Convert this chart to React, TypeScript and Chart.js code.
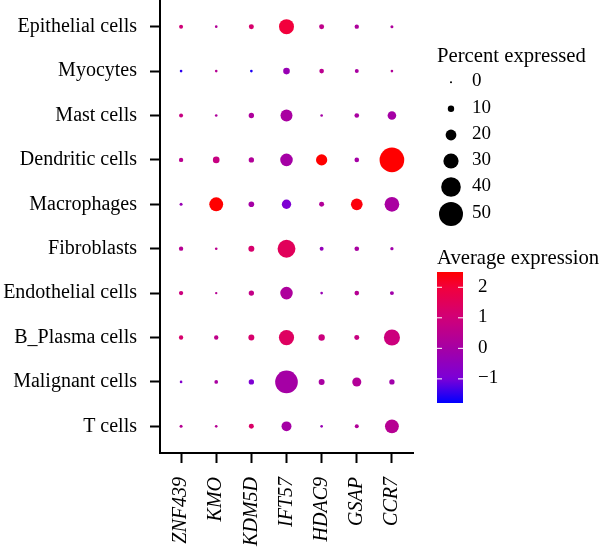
import React, { useEffect, useRef } from "react";
import { Chart, registerables } from "chart.js";

Chart.register(...registerables);

const genes = ["ZNF439", "KMO", "KDM5D", "IFT57", "HDAC9", "GSAP", "CCR7"];
const cellTypes = [
  "T cells",
  "Malignant cells",
  "B_Plasma cells",
  "Endothelial cells",
  "Fibroblasts",
  "Macrophages",
  "Dendritic cells",
  "Mast cells",
  "Myocytes",
  "Epithelial cells",
];

// rows follow cellTypes, columns follow genes
const percentT = [2.3, 1.5, 6.8, 18, 1.5, 4.5, 27];
const percentMalignant = [1.5, 3.8, 7.6, 47, 9, 16, 7.6];
const percentBPlasma = [5.3, 5.3, 9, 30, 9.9, 6.8, 32];
const percentEndothelial = [5.3, 0.8, 7.6, 24, 1.5, 6, 4.5];
const percentFibroblasts = [5.3, 1.5, 9, 36, 4.5, 6, 3];
const percentMacrophages = [2.3, 27, 8.3, 16.7, 6.8, 22, 28.8];
const percentDendritic = [5.3, 10.6, 7.6, 24, 21, 6, 51.5];
const percentMast = [4.5, 1.5, 7.6, 22.7, 1.5, 6, 15];
const percentMyocytes = [1.5, 1.5, 1.5, 10.6, 6, 4.5, 1.5];
const percentEpithelial = [4.5, 1.5, 6.8, 29.5, 6.8, 5.3, 2.3];

const avgT = [0.4, 0.4, 1.3, 0, -0.3, 0.3, 0.4];
const avgMalignant = [-0.8, 0.1, -0.9, 0, 0.1, 0.3, -0.1];
const avgBPlasma = [1.2, 0.6, 1.2, 1.4, 0.9, 0.8, 0.9];
const avgEndothelial = [0.9, 0.4, 0.7, 0.2, -0.3, 0.4, -0.1];
const avgFibroblasts = [0.4, 0.5, 1.2, 1.5, -0.4, 0.1, -0.1];
const avgMacrophages = [-0.3, 2.5, 0, -0.9, 0.3, 2.4, 0.1];
const avgDendritic = [0.5, 0.8, 0.3, 0, 2.5, 0, 2.5];
const avgMast = [0.8, 0.2, 0.2, 0.1, 0, 0.1, 0];
const avgMyocytes = [-1.5, 0.4, -1.6, -0.3, 0.5, 0.1, 0.3];
const avgEpithelial = [1, 0.3, 1.2, 2, 0.6, 0.2, 0.2];

const percentRows = [
  percentT, percentMalignant, percentBPlasma, percentEndothelial, percentFibroblasts,
  percentMacrophages, percentDendritic, percentMast, percentMyocytes, percentEpithelial,
];
const avgRows = [
  avgT, avgMalignant, avgBPlasma, avgEndothelial, avgFibroblasts,
  avgMacrophages, avgDendritic, avgMast, avgMyocytes, avgEpithelial,
];

const sizeLegendValues = [0, 10, 20, 30, 40, 50];
const colorLegendValues = [2, 1, 0, -1];

const colorMin = -1.79;
const colorMax = 2.5;
const colorStops: [number, number, number, number][] = [
  [-1.79, 0, 0, 255],
  [-1, 122, 0, 216],
  [0, 165, 0, 165],
  [1, 208, 0, 120],
  [2, 242, 0, 60],
  [2.5, 255, 0, 0],
];

const SERIF = '"Liberation Serif", serif';

function colorFor(v: number) {
  const c = Math.max(colorMin, Math.min(colorMax, v));
  for (let i = 1; i < colorStops.length; i++) {
    const a = colorStops[i - 1];
    const b = colorStops[i];
    if (c <= b[0]) {
      const t = (c - a[0]) / (b[0] - a[0]);
      const m = (k: number) => Math.round(a[k] + (b[k] - a[k]) * t);
      return `rgb(${m(1)},${m(2)},${m(3)})`;
    }
  }
  return "rgb(255,0,0)";
}

const radiusFor = (pct: number) => 1 + pct * 0.22;

const legendPlugin = {
  id: "dotLegends",
  afterDraw(chart: any) {
    const ctx = chart.ctx;
    ctx.save();
    ctx.fillStyle = "#000";
    ctx.textBaseline = "alphabetic";
    ctx.textAlign = "left";
    ctx.font = `20.7px ${SERIF}`;
    ctx.fillText("Percent expressed", 437, 61.5);
    ctx.fillText("Average expression", 437, 264);

    ctx.font = `19px ${SERIF}`;
    ctx.textBaseline = "middle";
    const sizeY = [82.3, 108.7, 135, 161, 187, 214];
    sizeLegendValues.forEach((v, i) => {
      ctx.beginPath();
      ctx.arc(451, sizeY[i], radiusFor(v), 0, Math.PI * 2);
      ctx.fill();
      ctx.fillText(String(v), 472, sizeY[i] - 1);
    });

    const top = 272;
    const bottom = 403;
    const pxPerUnit = (bottom - top) / (colorMax - colorMin);
    const yFor = (v: number) => bottom - (v - colorMin) * pxPerUnit;
    const grad = ctx.createLinearGradient(0, bottom, 0, top);
    for (let i = 0; i <= 40; i++) {
      const t = i / 40;
      grad.addColorStop(t, colorFor(colorMin + t * (colorMax - colorMin)));
    }
    ctx.fillStyle = grad;
    ctx.fillRect(437, top, 26, bottom - top);

    colorLegendValues.forEach((v) => {
      const y = yFor(v);
      ctx.fillStyle = "#fff";
      ctx.fillRect(437, y - 0.5, 5, 1);
      ctx.fillRect(458, y - 0.5, 5, 1);
      ctx.fillStyle = "#000";
      ctx.fillText(v < 0 ? `\u2212${Math.abs(v)}` : String(v), 478, y - 0.5);
    });
    ctx.restore();
  },
};

export default function App() {
  const ref = useRef<HTMLCanvasElement | null>(null);

  useEffect(() => {
    if (!ref.current) return;
    const points: { x: number; y: number; pct: number; avg: number }[] = [];
    percentRows.forEach((row, y) =>
      row.forEach((pct, x) => points.push({ x, y, pct, avg: avgRows[y][x] }))
    );

    const chart = new Chart(ref.current, {
      type: "bubble",
      data: {
        datasets: [
          {
            data: points as any,
            radius: (c: any) => radiusFor(c.raw.pct),
            backgroundColor: (c: any) => colorFor(c.raw.avg),
            borderWidth: 0,
            hoverRadius: 0,
          } as any,
        ],
      },
      options: {
        responsive: false,
        animation: false,
        events: [],
        layout: { autoPadding: false, padding: { left: 0, top: 0, right: 187, bottom: 0 } },
        plugins: { legend: { display: false }, tooltip: { enabled: false } },
        scales: {
          x: {
            type: "linear",
            min: -0.6,
            max: genes.length - 0.4,
            grid: { display: true, drawOnChartArea: false, drawTicks: true, tickLength: 10, tickWidth: 2, tickColor: "#000" } as any,
            border: { display: true, color: "#000", width: 2 },
            afterBuildTicks: (s: any) => {
              s.ticks = genes.map((_, i) => ({ value: i }));
            },
            afterFit: (s: any) => {
              s.height = 95;
              s.paddingLeft = 0;
              s.paddingRight = 0;
            },
            ticks: {
              autoSkip: false,
              minRotation: 90,
              maxRotation: 90,
              padding: 14,
              color: "#000",
              font: { family: "Liberation Serif", size: 20, style: "italic" },
              callback: (v: any) => genes[v] ?? "",
            },
          },
          y: {
            type: "linear",
            min: -0.6,
            max: cellTypes.length - 0.4,
            grid: { display: true, drawOnChartArea: false, drawTicks: true, tickLength: 10, tickWidth: 2, tickColor: "#000" } as any,
            border: { display: true, color: "#000", width: 2 },
            afterBuildTicks: (s: any) => {
              s.ticks = cellTypes.map((_, i) => ({ value: i }));
            },
            afterFit: (s: any) => {
              s.width = 160;
              s.paddingTop = 0;
              s.paddingBottom = 0;
            },
            ticks: {
              autoSkip: false,
              padding: 13,
              color: "#000",
              font: { family: "Liberation Serif", size: 20 },
              callback: (v: any) => cellTypes[v] ?? "",
            },
          },
        },
      },
      plugins: [legendPlugin as any],
    });
    return () => chart.destroy();
  }, []);

  return (
    <div style={{ position: "fixed", left: 0, top: 0, width: 600, height: 548, background: "#fff" }}>
      <canvas ref={ref} width={600} height={548} style={{ display: "block" }} />
    </div>
  );
}
